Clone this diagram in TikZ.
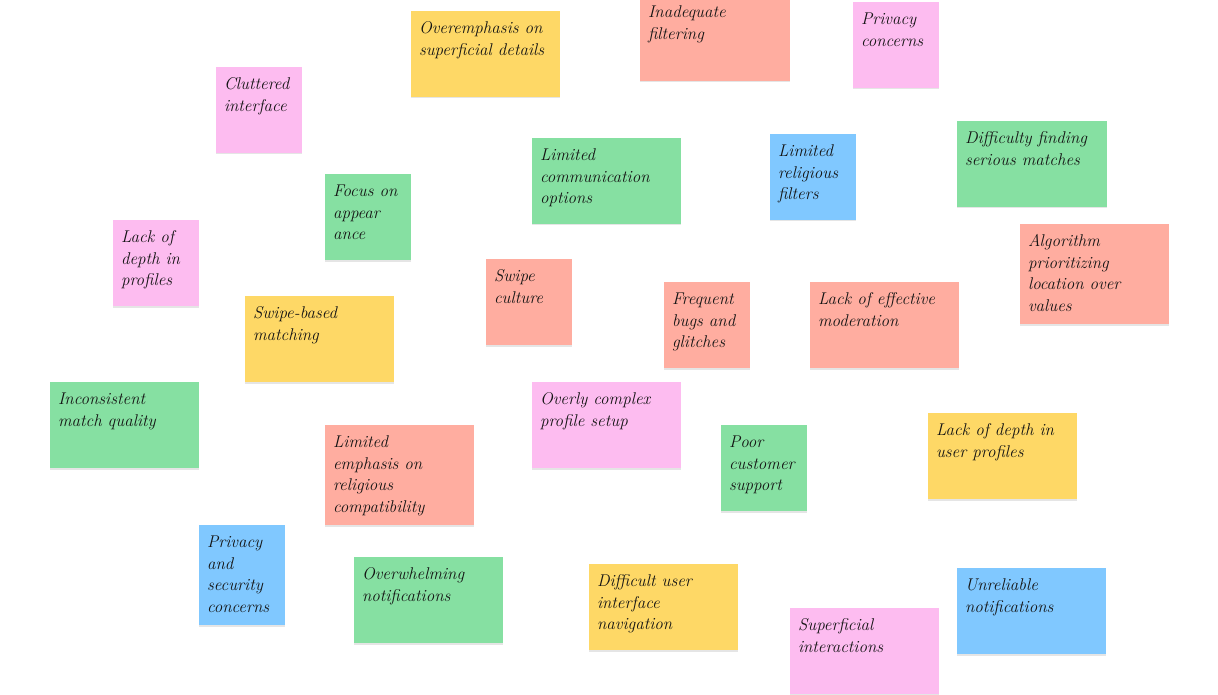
\documentclass[tikz,border=0pt]{standalone}
\usepackage{fontspec}
\usetikzlibrary{shadows}
\definecolor{nyellow}{RGB}{254,216,102}
\definecolor{npink}{RGB}{253,188,240}
\definecolor{ngreen}{RGB}{134,224,162}
\definecolor{nsalmon}{RGB}{255,173,160}
\definecolor{nblue}{RGB}{128,200,255}
\definecolor{ink}{RGB}{20,20,20}
\tikzset{
  note/.style={anchor=north west, inner sep=0pt, outer sep=0pt, draw=none,
    drop shadow={shadow xshift=0pt, shadow yshift=-1.5pt, fill=black, opacity=0.10}},
  notetext/.style={anchor=north west, inner sep=0pt, outer sep=0pt, text=ink,
    font=\fontsize{17}{21.7}\selectfont\itshape, align=left}
}
\newcommand\stickynote[7]{%
  \node[note, fill=#6, minimum width=#4pt, minimum height=#5pt] (#1) at (#2,#3) {};
  \node[notetext] (#1t) at ([shift={(8,7.2)}]#1.north west) {\strut #7};
}
\begin{document}
\begin{tikzpicture}[x=1pt,y=-1pt]
\fill[white] (0,0) rectangle (1218,695);
\useasboundingbox (0,0) rectangle (1218,695);
\stickynote{n1}{411}{11}{149}{86}{nyellow}{Overemphasis on\\superficial details}
\stickynote{n2}{640}{-5}{150}{86}{nsalmon}{Inadequate\\filtering}
\stickynote{n3}{853}{2}{86}{86}{npink}{Privacy\\concerns}
\stickynote{n4}{216}{67}{86}{86}{npink}{Cluttered\\interface}
\stickynote{n5}{532}{138}{149}{86}{ngreen}{Limited\\communication\\options}
\stickynote{n6}{770}{134}{86}{86}{nblue}{Limited\\religious\\filters}
\stickynote{n7}{957}{121}{150}{86}{ngreen}{Difficulty finding\\serious matches}
\stickynote{n8}{325}{174}{86}{86}{ngreen}{Focus on\\appear\\ance}
\stickynote{n9}{113}{220}{86}{86}{npink}{Lack of\\depth in\\profiles}
\stickynote{n10}{1020}{224}{149}{100}{nsalmon}{Algorithm\\prioritizing\\location over\\values}
\stickynote{n11}{486}{259}{86}{86}{nsalmon}{Swipe\\culture}
\stickynote{n12}{664}{282}{86}{86}{nsalmon}{Frequent\\bugs and\\glitches}
\stickynote{n13}{810}{282}{149}{86}{nsalmon}{Lack of effective\\moderation}
\stickynote{n14}{245}{296}{149}{86}{nyellow}{Swipe-based\\matching}
\stickynote{n15}{50}{382}{149}{86}{ngreen}{Inconsistent\\match quality}
\stickynote{n16}{532}{382}{149}{86}{npink}{Overly complex\\profile setup}
\stickynote{n17}{325}{425}{149}{100}{nsalmon}{Limited\\emphasis on\\religious\\compatibility}
\stickynote{n18}{721}{425}{86}{86}{ngreen}{Poor\\customer\\support}
\stickynote{n19}{928}{413}{149}{86}{nyellow}{Lack of depth in\\user profiles}
\stickynote{n20}{199}{525}{86}{100}{nblue}{Privacy\\and\\security\\concerns}
\stickynote{n21}{354}{557}{149}{86}{ngreen}{Overwhelming\\notifications}
\stickynote{n22}{589}{564}{149}{86}{nyellow}{Difficult user\\interface\\navigation}
\stickynote{n23}{957}{568}{149}{86}{nblue}{Unreliable\\notifications}
\stickynote{n24}{790}{608}{149}{86}{npink}{Superficial\\interactions}
\end{tikzpicture}
\end{document}
